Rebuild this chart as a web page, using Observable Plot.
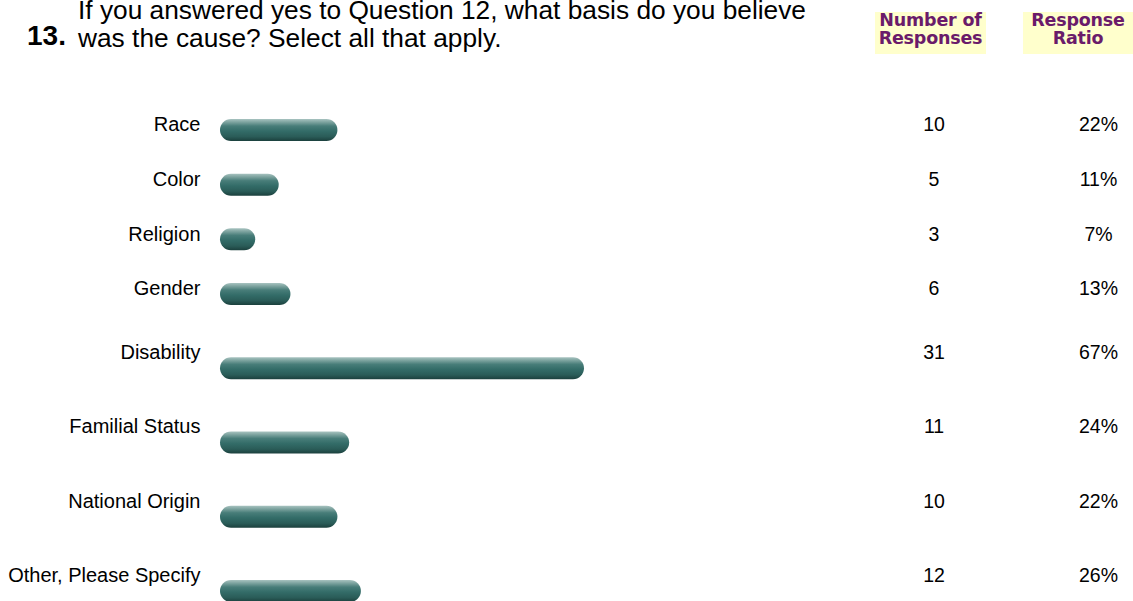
<!DOCTYPE html>
<html>
<head>
<meta charset="utf-8">
<script src="https://cdn.jsdelivr.net/npm/d3@7"></script>
<script src="https://cdn.jsdelivr.net/npm/@observablehq/plot@0.6"></script>
<style>
  body { margin: 0; background: #fff; font-family: "Liberation Sans", Arial, sans-serif; color: #000; }
  #wrap { position: relative; width: 1133px; height: 601px; overflow: hidden; }
  #header { position: relative; height: 60px; }
  .qnum { position: absolute; left: 27px; top: 19.8px; font-weight: bold; font-size: 28px; line-height: 31px; white-space: nowrap; }
  .qtext { position: absolute; left: 78px; top: -4.5px; font-size: 26.3px; line-height: 28.5px; white-space: nowrap; }
  .hbox { position: absolute; top: 12px; height: 42px; background: #ffffcc; }
  .htext { position: absolute; left: 0; right: 0; top: -1.4px; text-align: center; color: #6a1b6a;
           font-family: "DejaVu Sans", sans-serif; font-weight: bold; font-size: 17.5px; line-height: 18.5px; white-space: nowrap; letter-spacing: -0.2px; }
  #chart svg { display: block; }
</style>
</head>
<body>
<div id="wrap">
  <div id="header">
    <div class="qnum">13.</div>
    <div class="qtext">If you answered yes to Question 12, what basis do you believe<br>was the cause? Select all that apply.</div>
    <div class="hbox" style="left:875px;width:111px;"><div class="htext">Number of<br>Responses</div></div>
    <div class="hbox" style="left:1023px;width:110px;"><div class="htext">Response<br>Ratio</div></div>
  </div>
  <div id="chart"></div>
</div>
<script>
const categories = ["Race", "Color", "Religion", "Gender", "Disability", "Familial Status", "National Origin", "Other, Please Specify"];
const responses = [10, 5, 3, 6, 31, 11, 10, 12];
const ratios = ["22%", "11%", "7%", "13%", "67%", "24%", "22%", "26%"];

const rows = categories.map((c, i) => ({ category: c, idx: i, count: responses[i], ratio: ratios[i] }));
const upper = rows.filter(d => d.idx < 4);
const lower = rows.filter(d => d.idx >= 4);

function column(field, dx, anchor, size) {
  return [
    Plot.text(upper, { y: "idx", text: field, frameAnchor: "left", dx, dy: -5.5, textAnchor: anchor, fontSize: size, fill: "#000" }),
    Plot.text(lower, { y: "idx", text: field, frameAnchor: "left", dx, dy: -16, textAnchor: anchor, fontSize: size, fill: "#000" })
  ];
}

const chart = Plot.plot({
  width: 1133,
  height: 541,
  margin: 0,
  style: { fontFamily: "'Liberation Sans', Arial, sans-serif", background: "#fff", overflow: "hidden" },
  x: { type: "linear", domain: [0, 31], range: [220, 584], axis: null },
  y: { type: "linear", domain: [0, 3, 7], range: [70, 234, 531], axis: null },
  marks: [
    Plot.rect(rows, { x1: 0, x2: "count", y1: "idx", y2: "idx", insetTop: -11, insetBottom: -11, rx: 11, ry: 11, fill: "url(#tealGrad)" }),
    ...column("category", 200, "end", 20),
    ...column("count", 933.5, "middle", 19.5),
    ...column("ratio", 1098, "middle", 19.5)
  ]
});

const defs = d3.select(chart).insert("defs", ":first-child");
const g = defs.append("linearGradient").attr("id", "tealGrad").attr("x1", 0).attr("y1", 0).attr("x2", 0).attr("y2", 1);
[["0%", "#a8c3c0"], ["14%", "#7ea4a0"], ["32%", "#487d79"], ["55%", "#336c68"], ["80%", "#2a5c58"], ["100%", "#1b403d"]]
  .forEach(([o, c]) => g.append("stop").attr("offset", o).attr("stop-color", c));

document.getElementById("chart").appendChild(chart);
</script>
</body>
</html>
